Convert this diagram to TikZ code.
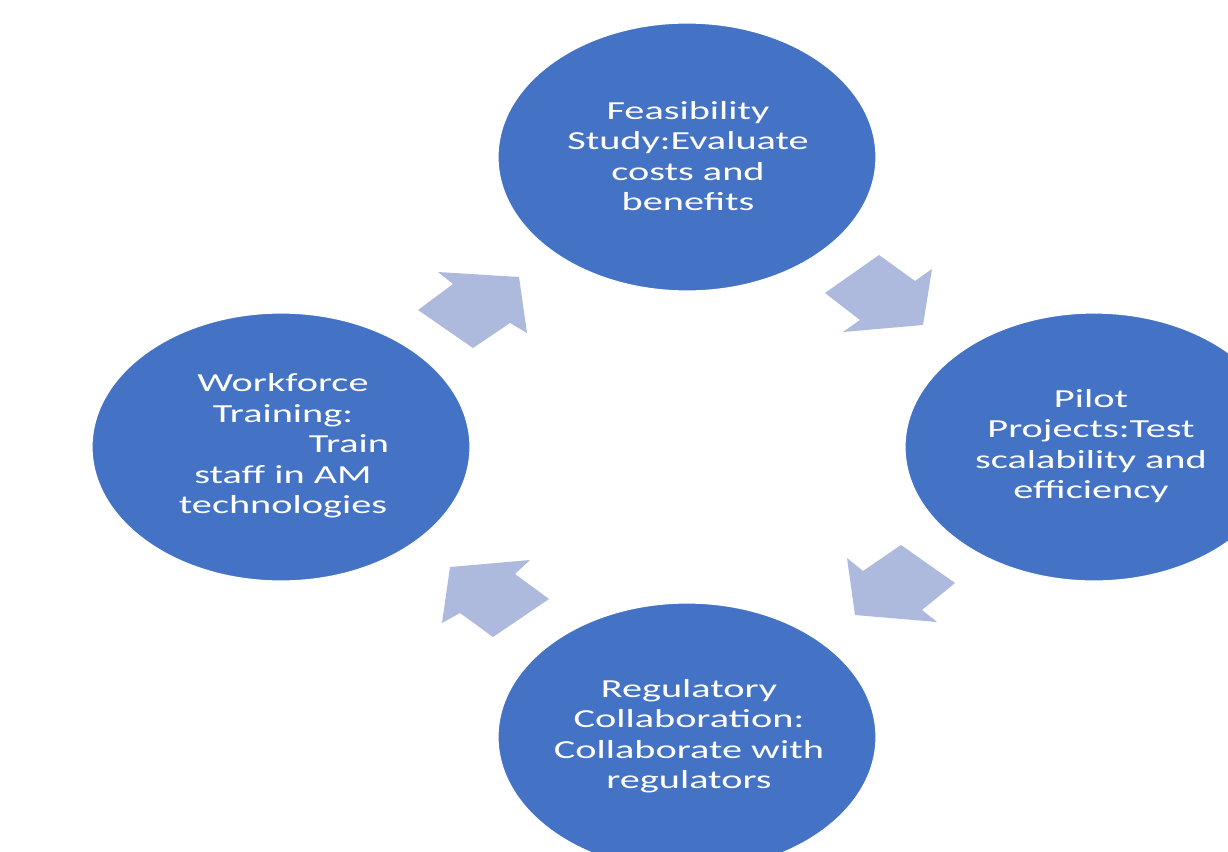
\documentclass[tikz,border=0pt]{standalone}
\usepackage{fontspec}
\newfontfamily\lblfont[FakeStretch=1.55]{Carlito}
\definecolor{stageblue}{HTML}{4472C4}
\definecolor{flowblue}{HTML}{ADBADD}
\begin{document}
\begin{tikzpicture}[x=1pt,y=-1pt,
  stage/.style={fill=stageblue,draw=white,line width=1.2pt},
  stagetext/.style={text=white,align=center,font=\lblfont\fontsize{26}{30.5}\selectfont,inner sep=0pt},
  flow/.style={fill=flowblue,draw=none}]
\useasboundingbox (0,0) rectangle (1228,851);
\fill[white] (0,0) rectangle (1228,851);
\clip (0,0) rectangle (1228,851);

% the four stages of the cycle
\coordinate (cfeas) at (687,157);
\coordinate (cpilot) at (1094,447);
\coordinate (creg) at (687,737);
\coordinate (cwork) at (281,447);
\draw[stage] (cfeas) ellipse [x radius=189, y radius=134];
\draw[stage] (cpilot) ellipse [x radius=189, y radius=134];
\draw[stage] (creg) ellipse [x radius=189, y radius=134];
\draw[stage] (cwork) ellipse [x radius=189, y radius=134];

\node[stagetext] (feas) at (688,156) {Feasibility\\Study:Evaluate\\costs and\\benefits};
\node[stagetext] (pilot) at (1091,446) {Pilot\\Projects:Test\\scalability and\\efficiency};
\node[stagetext] (reg) at (689,736) {Regulatory\\Collaboration:\\Collaborate with\\regulators};
\node[stagetext] (work) at (283,446) {Workforce\\Training:\\\hspace*{132pt}Train\\staff in AM\\technologies};

% block arrows between the stages
\fill[flow] (418,310) -- (453,284) -- (438,272) -- (519,277) -- (527,333) -- (510,323) -- (473,348) -- cycle;
\fill[flow] (879,255) -- (915,281) -- (932,269) -- (923,325) -- (843,332) -- (860,320) -- (825,293) -- cycle;
\fill[flow] (901,545) -- (955,583) -- (922,610) -- (937,622) -- (855,615) -- (847,558) -- (863,571) -- cycle;
\fill[flow] (530,560) -- (515,574) -- (549,599) -- (493,637) -- (460,613) -- (442,623) -- (450,567) -- cycle;
\end{tikzpicture}
\end{document}
